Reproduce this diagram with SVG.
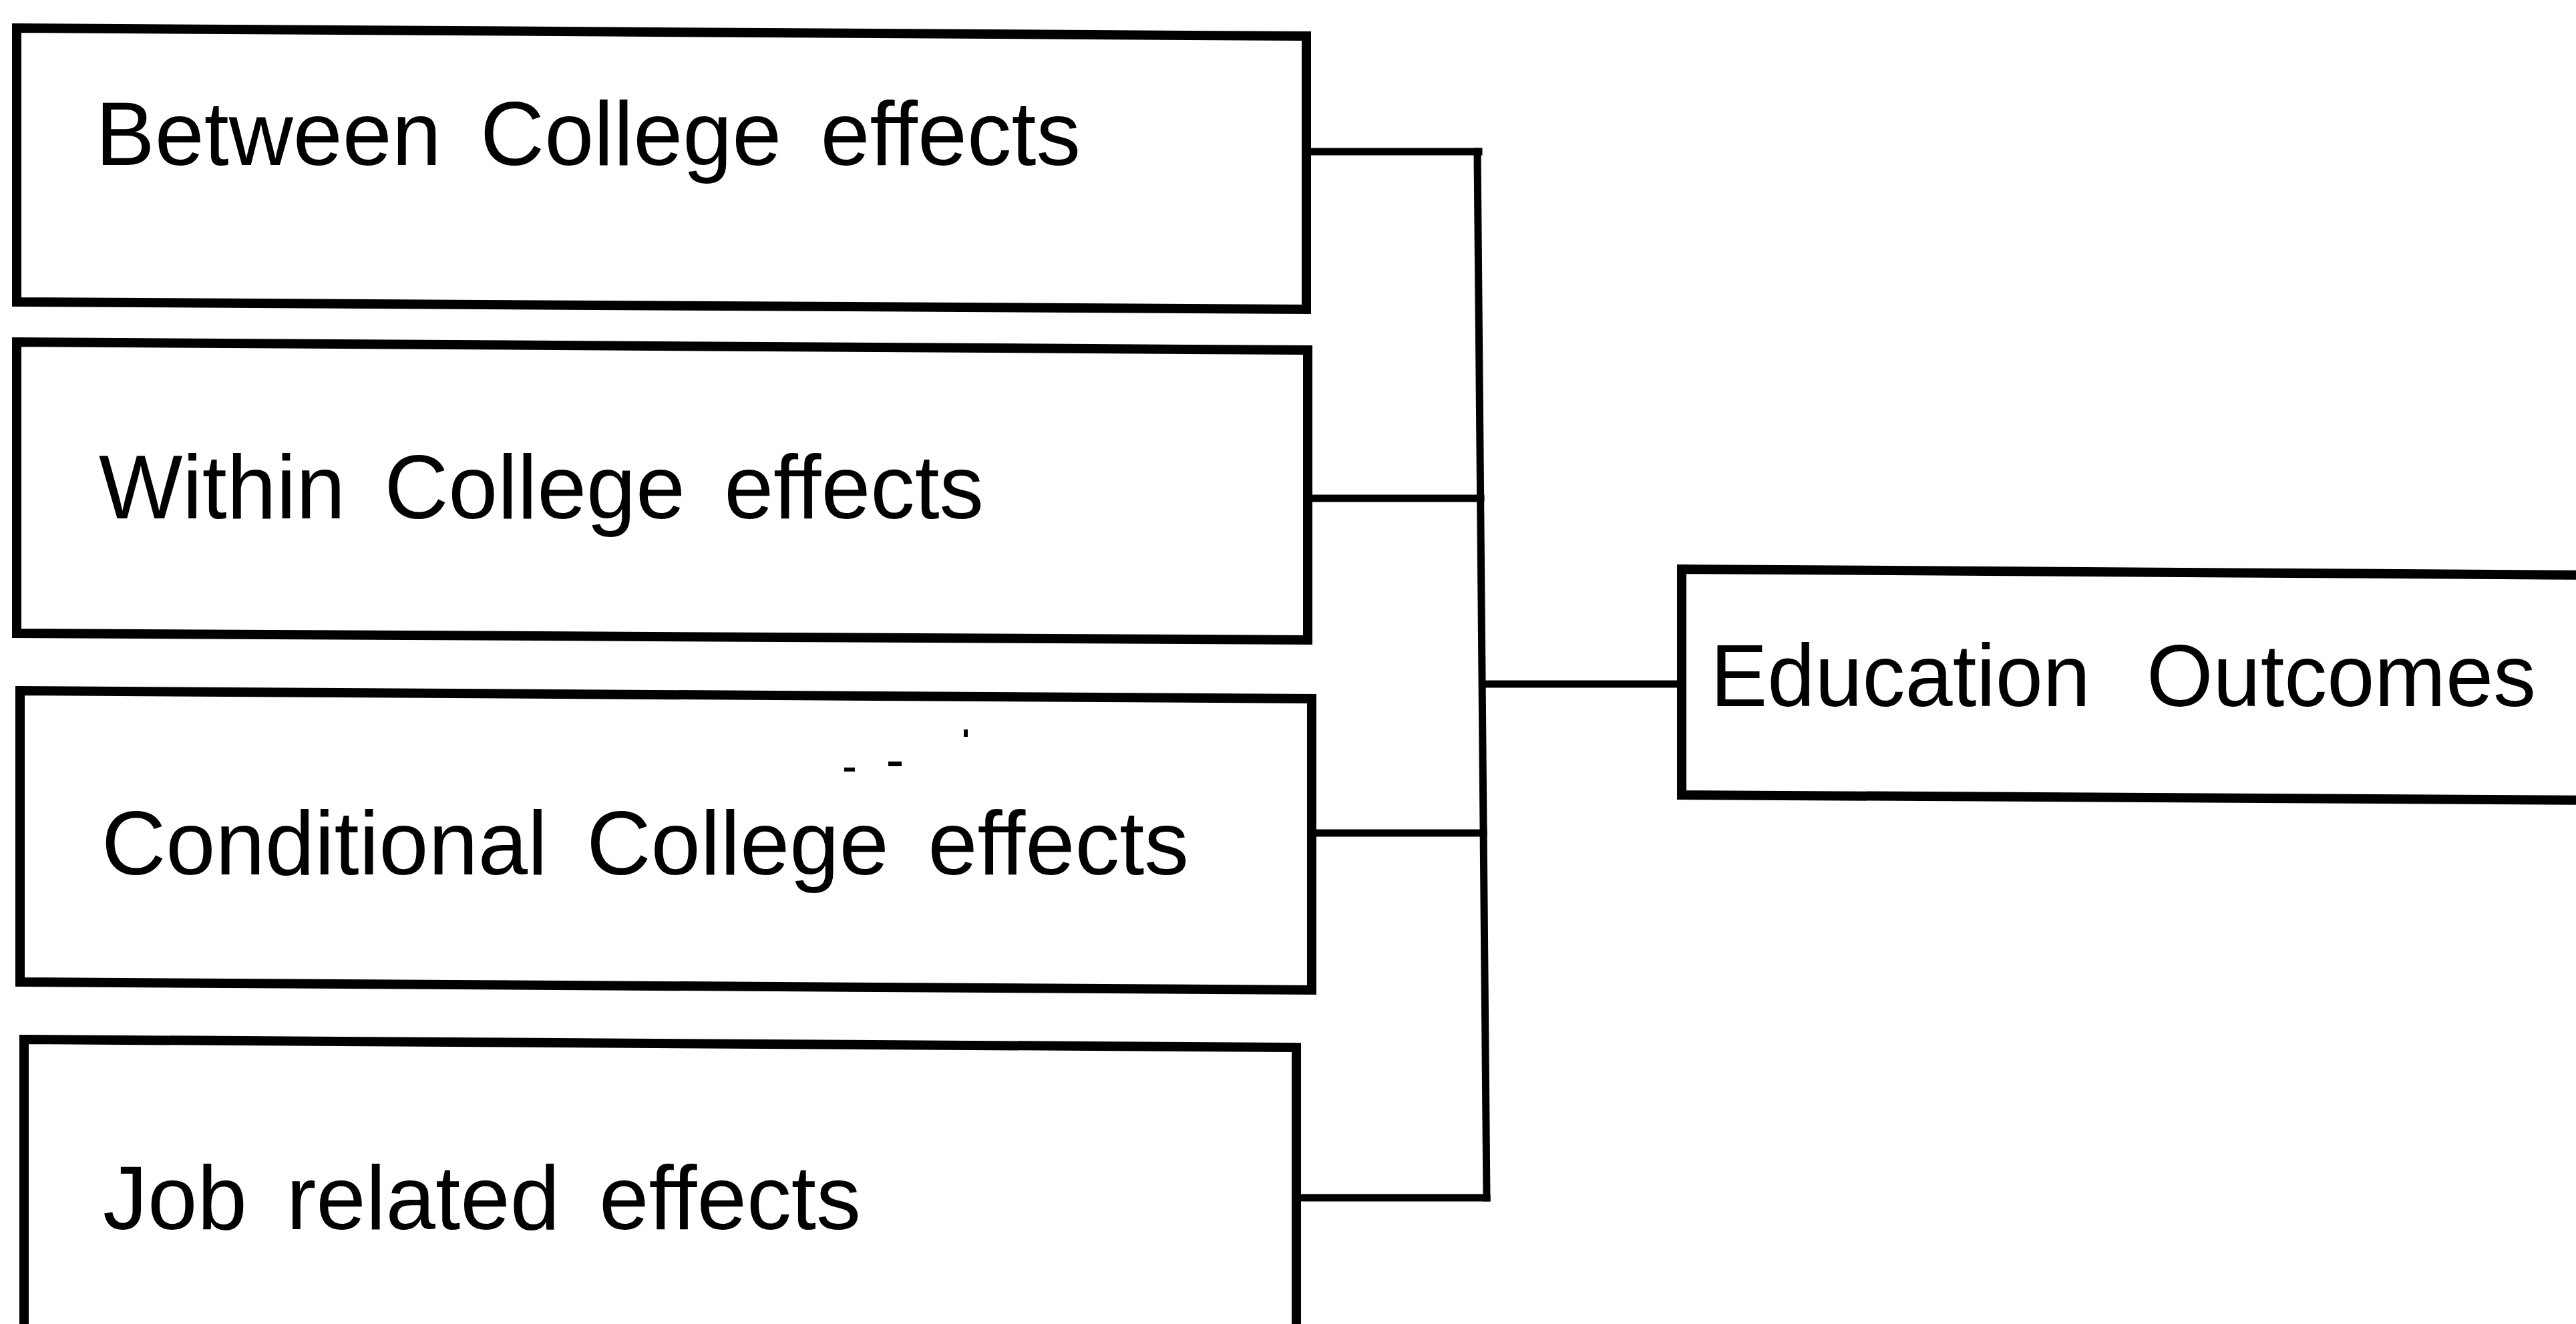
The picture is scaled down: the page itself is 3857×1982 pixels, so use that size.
<svg xmlns="http://www.w3.org/2000/svg" width="3857" height="1982" viewBox="0 0 3857 1982">
  <style>
    .box { fill: #ffffff; stroke: #000000; stroke-width: 14; stroke-linejoin: miter; }
    .label { font-family: "Liberation Sans", Arial, sans-serif; font-size: 136px; fill: #000000; word-spacing: 22px; }
    .wire { fill: none; stroke: #000000; stroke-width: 11; stroke-linecap: square; }
  </style>
  <rect x="0" y="0" width="3857" height="1982" fill="#ffffff"/>

  <!-- sources -->
  <g id="between-college">
    <polygon class="box" points="25,42 1956,54 1956,463 25,452"/>
    <text class="label" x="143" y="247" textLength="1475" lengthAdjust="spacingAndGlyphs">Between College effects</text>
  </g>
  <g id="within-college">
    <polygon class="box" points="25,512 1958,524 1958,958 25,948"/>
    <text class="label" x="148" y="776" textLength="1325" lengthAdjust="spacingAndGlyphs">Within College effects</text>
  </g>
  <g id="conditional-college">
    <polygon class="box" points="30,1034 1964,1046 1964,1482 30,1470"/>
    <text class="label" x="152" y="1309" textLength="1628" lengthAdjust="spacingAndGlyphs">Conditional College effects</text>
    <!-- small print specks -->
    <rect x="1264" y="1149" width="16" height="6" fill="#000"/>
    <rect x="1330" y="1140" width="20" height="7" fill="#000"/>
    <rect x="1443" y="1092" width="6" height="11" fill="#000"/>
  </g>
  <g id="job-related">
    <polygon class="box" points="36,1556 1941,1568 1941,2010 36,2010"/>
    <text class="label" x="154" y="1840" textLength="1135" lengthAdjust="spacingAndGlyphs">Job related effects</text>
  </g>

  <!-- target -->
  <g id="education-outcomes">
    <polygon class="box" points="2518,852 3880,861 3880,1198 2518,1190"/>
    <text class="label" x="2561" y="1057" style="font-size:132px; word-spacing:50px" textLength="1236" lengthAdjust="spacingAndGlyphs">Education Outcomes</text>
  </g>

  <!-- bracket connectors -->
  <g id="connectors">
    <path class="wire" d="M1962,227 H2214"/>
    <path class="wire" d="M1964,746 H2217"/>
    <path class="wire" d="M1970,1247 H2221"/>
    <path class="wire" d="M1947,1793 H2226"/>
    <path class="wire" d="M2212,227 L2226,1793"/>
    <path class="wire" d="M2220,1024 H2512"/>
  </g>
</svg>
